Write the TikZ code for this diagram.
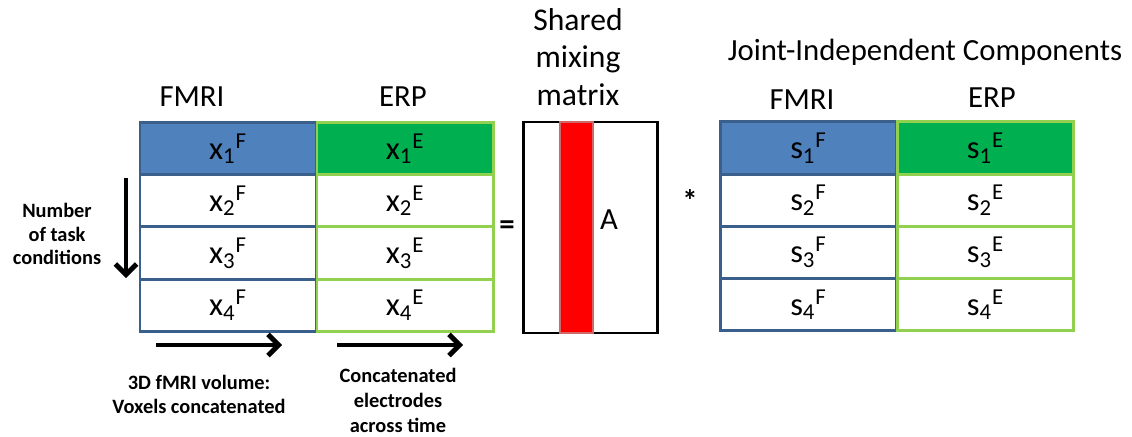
\documentclass[tikz,border=0pt]{standalone}
\usepackage{fontspec}
\setmainfont{Carlito}
\usetikzlibrary{arrows.meta, positioning}
\usepackage{xcolor}
\definecolor{fmriblue}{HTML}{4F81BD}
\definecolor{fmriedge}{HTML}{3A5F8B}
\definecolor{erpgreen}{HTML}{00B050}
\definecolor{erpedge}{HTML}{92D050}
\definecolor{mixred}{HTML}{FF0000}
\definecolor{mixedge}{HTML}{D06868}

\begin{document}
\begin{tikzpicture}[
  font=\fontsize{17.5}{20}\selectfont,
  cell/.style={draw, outer sep=0pt, inner sep=0pt, line width=1.7pt, fill=white, minimum width=3.52cm, minimum height=1.045cm, font=\fontsize{18.5}{20}\selectfont},
  fcell/.style={cell, draw=fmriedge},
  ecell/.style={cell, draw=erpedge},
  ftop/.style={fcell, fill=fmriblue},
  etop/.style={ecell, fill=erpgreen},
  head/.style={align=center},
  note/.style={font=\fontsize{11.6}{13.5}\selectfont\bfseries, align=center},
  arrow/.style={-{Straight Barb[length=6pt, width=12pt]}, line width=2.8pt}
]
\useasboundingbox (0,0) rectangle (22.64,-8.72);

% observed data: fMRI and ERP features per task condition
\node[ftop] (xF1) at (4.56,-2.97) {x\textsubscript{1}\textsuperscript{F}};
\node[fcell, below=0pt of xF1] (xF2) {x\textsubscript{2}\textsuperscript{F}};
\node[fcell, below=0pt of xF2] (xF3) {x\textsubscript{3}\textsuperscript{F}};
\node[fcell, below=0pt of xF3] (xF4) {x\textsubscript{4}\textsuperscript{F}};

\node[etop, right=0.02cm of xF1] (xE1) {x\textsubscript{1}\textsuperscript{E}};
\node[ecell, below=0pt of xE1] (xE2) {x\textsubscript{2}\textsuperscript{E}};
\node[ecell, below=0pt of xE2] (xE3) {x\textsubscript{3}\textsuperscript{E}};
\node[ecell, below=0pt of xE3] (xE4) {x\textsubscript{4}\textsuperscript{E}};

\node[head] (fmri) at (3.84,-1.94) {FMRI};
\node[head] (erp) at (8.06,-1.94) {ERP};

\node[font=\fontsize{17.5}{20}\selectfont\bfseries] (eq) at (10.14,-4.56) {=};

% mixing matrix with its highlighted column
\node[draw, line width=1.7pt, minimum width=2.68cm, minimum height=4.22cm] (mix) at (11.80,-4.55) {};
\node[draw=mixedge, fill=mixred, line width=1.4pt, minimum width=0.66cm, minimum height=4.22cm] (col) at (11.53,-4.55) {};
\node (A) at (12.18,-4.40) {A};
\node[head, font=\fontsize{18}{21.5}\selectfont] (shared) at (11.56,-1.14) {Shared\\mixing\\matrix};

\node[font=\fontsize{17.5}{20}\selectfont\bfseries] (star) at (13.80,-4.00) {*};

% joint sources
\node[ftop] (sF1) at (16.17,-2.96) {s\textsubscript{1}\textsuperscript{F}};
\node[fcell, below=0pt of sF1] (sF2) {s\textsubscript{2}\textsuperscript{F}};
\node[fcell, below=0pt of sF2] (sF3) {s\textsubscript{3}\textsuperscript{F}};
\node[fcell, below=0pt of sF3] (sF4) {s\textsubscript{4}\textsuperscript{F}};

\node[etop, right=0.02cm of sF1] (sE1) {s\textsubscript{1}\textsuperscript{E}};
\node[ecell, below=0pt of sE1] (sE2) {s\textsubscript{2}\textsuperscript{E}};
\node[ecell, below=0pt of sE2] (sE3) {s\textsubscript{3}\textsuperscript{E}};
\node[ecell, below=0pt of sE3] (sE4) {s\textsubscript{4}\textsuperscript{E}};

\node[head] (joint) at (18.50,-1.04) {Joint-Independent Components};
\node[head] (sfmri) at (16.04,-2.00) {FMRI};
\node[head] (serp) at (19.84,-1.96) {ERP};

% axis arrows and their notes
\coordinate (downA) at (2.52,-3.56);
\coordinate (downB) at (2.52,-5.56);
\coordinate (vox1) at (3.12,-6.90);
\coordinate (vox2) at (5.64,-6.90);
\coordinate (elec1) at (6.74,-6.90);
\coordinate (elec2) at (9.26,-6.90);

\draw[arrow] (downA) -- (downB);
\draw[arrow] (vox1) -- (vox2);
\draw[arrow] (elec1) -- (elec2);

\node[note] (cond) at (1.14,-4.68) {Number\\of task\\conditions};
\node[note] (voxnote) at (3.98,-7.89) {3D fMRI volume:\\Voxels concatenated};
\node[note, font=\fontsize{11.6}{14.2}\selectfont\bfseries] (elecnote) at (7.96,-8.00) {Concatenated\\electrodes\\across time};

\end{tikzpicture}
\end{document}
